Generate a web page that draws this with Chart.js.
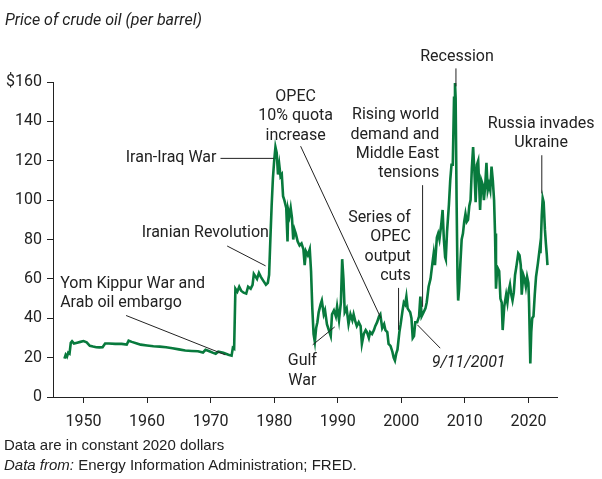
<!DOCTYPE html>
<html>
<head>
<meta charset="utf-8">
<script src="https://cdn.jsdelivr.net/npm/chart.js@4.4.1/dist/chart.umd.min.js"></script>
<style>
  html, body { margin: 0; padding: 0; background: #fff; }
  body { width: 602px; height: 479px; position: relative; overflow: hidden; font-family: Roboto, "Noto Sans", sans-serif; color: #222; }
  #wrap { position: absolute; left: 0; top: 0; width: 602px; height: 479px; }
  .txt { position: absolute; white-space: nowrap; color: #222; line-height: 17px; }
  #title { left: 5px; top: 11px; font-size: 16px; font-style: italic; line-height: 18px; }
  #note1 { left: 4px; top: 436px; font-size: 15px; font-family: "Liberation Sans", Arial, sans-serif; }
  #note2 { left: 4px; top: 456px; font-size: 15px; font-family: "Liberation Sans", Arial, sans-serif; }
</style>
</head>
<body>
<div id="wrap"><canvas id="c" width="602" height="479"></canvas></div>
<div class="txt" id="title">Price of crude oil (per barrel)</div>
<div class="txt" id="note1">Data are in constant 2020 dollars</div>
<div class="txt" id="note2"><i>Data from:</i> Energy Information Administration; FRED.</div>
<script>
// ---- Data ----
const years = [
 1947.0,1947.2,1947.4,1947.6,1947.8,1948.0,1948.2,1948.5,1949.0,1949.5,
 1950.0,1950.5,1951.0,1951.5,1952.0,1952.5,1953.0,1953.4,1954.0,1955.0,
 1956.0,1956.8,1957.1,1957.6,1958.4,1959.0,1960.0,1961.0,1962.0,1963.0,
 1964.0,1965.0,1966.0,1967.0,1968.0,1968.8,1969.2,1969.8,1970.4,1970.8,
 1971.2,1972.0,1972.8,1973.3,1973.5,1973.7,1973.9,1974.2,1974.5,1974.8,
 1975.2,1975.6,1975.9,1976.3,1976.6,1976.8,1977.1,1977.3,1977.6,1977.9,
 1978.3,1978.7,1979.0,1979.2,1979.4,1979.6,1979.8,1980.0,1980.2,1980.4,
 1980.6,1980.8,1981.0,1981.2,1981.4,1981.6,1981.9,1982.1,1982.2,1982.4,
 1982.6,1982.8,1983.0,1983.2,1983.4,1983.7,1984.0,1984.3,1984.6,1984.8,
 1985.0,1985.3,1985.6,1985.8,1986.0,1986.2,1986.4,1986.6,1986.8,1987.0,
 1987.3,1987.5,1987.8,1988.0,1988.3,1988.6,1988.9,1989.1,1989.4,1989.7,
 1989.9,1990.2,1990.5,1990.7,1990.9,1991.1,1991.4,1991.7,1992.0,1992.3,
 1992.5,1992.8,1993.0,1993.3,1993.6,1993.8,1994.1,1994.4,1994.6,1994.9,
 1995.1,1995.4,1995.7,1995.9,1996.2,1996.5,1996.7,1997.0,1997.3,1997.5,
 1997.8,1998.0,1998.3,1998.6,1998.8,1999.0,1999.2,1999.4,1999.7,1999.9,
 2000.2,2000.4,2000.6,2000.8,2001.0,2001.2,2001.4,2001.6,2001.8,2002.0,
 2002.2,2002.5,2002.8,2003.0,2003.2,2003.5,2003.8,2004.0,2004.3,2004.6,
 2004.9,2005.1,2005.3,2005.6,2005.8,2006.0,2006.3,2006.5,2006.7,2006.9,
 2007.0,2007.2,2007.5,2007.7,2007.9,2008.1,2008.3,2008.45,2008.55,2008.7,
 2008.85,2008.95,2009.1,2009.3,2009.5,2009.7,2009.9,2010.1,2010.3,2010.5,
 2010.7,2010.9,2011.1,2011.3,2011.5,2011.7,2011.9,2012.1,2012.4,2012.6,
 2012.8,2013.0,2013.2,2013.4,2013.6,2013.8,2014.0,2014.2,2014.4,2014.6,
 2014.75,2014.9,2015.1,2015.4,2015.6,2015.8,2015.95,2016.2,2016.5,2016.7,
 2016.9,2017.1,2017.3,2017.5,2017.7,2017.9,2018.1,2018.4,2018.6,2018.8,
 2018.95,2019.2,2019.4,2019.6,2019.8,2020.0,2020.1,2020.3,2020.45,2020.6,
 2020.8,2021.0,2021.2,2021.5,2021.8,2021.9,2022.1,2022.25,2022.4,2022.6,
 2022.75,2022.9,2023.0
];
const prices = [
 19.5,21.5,20.5,22.5,22,27.5,28.3,27.2,27.6,28,
 28.4,27.8,26,25.6,25.3,25.2,25.3,27.2,27.2,27,
 27,26.6,28.6,28,27.2,26.6,26.2,25.8,25.6,25.3,
 24.8,24.2,23.6,23.4,23.2,22.6,24,23.2,22.4,22,
 23,22.5,21.5,21,25,24.5,55,53.5,56,54,
 53,52.5,56,55,57,62.5,61,60,63,61,
 59,57,58,62,80,97,111,120,127,124,
 113,118,112,113,102,100,96,79,95,92,
 96,91,80,85,83,79,77,78,75,67,
 74,72,75,64,45,32,28,35,38,43,
 47,49,42,44,37,34,31,42,44,41,
 46,39,48,70,60,43,45,37,42,39,
 42,38,36,38,36,27,32,34,33,30,
 33,32,34,36,38,41,42,35,37,34,
 33,27,26,23,20,18.5,22,24,33,37,
 44,48,47,51,45,44,43,40,30,31,
 38,38,41,51,41,43,45,48,56,60,
 68,73,67,81,83,80,88,95,80,71,
 70,84,98,110,118,118,152,159.5,152,100,
 60,49,55,68,80,83,89,93,89,90,
 97,100,116,127,115,99,118,120,95,110,
 108,100,107,119,105,108,105,117,110,100,
 83,55,66,64,50,48,34,46,52,48,
 54,57,52,49,53,62,66,73,72,67,
 52,62,60,56,61,58,48,17,33,40,
 41,52,61,68,76,73,92,101,99,85,
 78,72,67
];
const xTickValues = [1950, 1960, 1970, 1980, 1990, 2000, 2010, 2020];
const xTickLabels = ['1950', '1960', '1970', '1980', '1990', '2000', '2010', '2020'];
const yTickValues = [0, 20, 40, 60, 80, 100, 120, 140, 160];
const yTickLabels = ['0', '20', '40', '60', '80', '100', '120', '140', '$160'];

// Annotations: anchor in data coordinates (year, value of first line centre)
const annotations = [
  { x: 1946.33, y: 57.4, align: 'left',   lines: ['Yom Kippur War and', 'Arab oil embargo'], leader: [[1956.7, 41.4], [1972.3, 21.4]] },
  { x: 1979.17, y: 83.1, align: 'right',  lines: ['Iranian Revolution'], leader: [[1972.6, 76.7], [1978.65, 66.6]] },
  { x: 1970.92, y: 121.5, align: 'right', lines: ['Iran-Iraq War'], leader: [[1971.55, 121.2], [1979.95, 121.2]] },
  { x: 1983.38, y: 152.4, align: 'center', lines: ['OPEC', '10% quota', 'increase'], leader: [[1984.16, 127.4], [1996.77, 40.2]] },
  { x: 1984.43, y: 18.1, align: 'center', lines: ['Gulf', 'War'], leader: [[1986.06, 26.5], [1989.53, 35.6]] },
  { x: 2001.5, y: 90.9, align: 'right',   lines: ['Series of', 'OPEC', 'output', 'cuts'], leader: [[1999.57, 55.4], [1999.57, 34.1]] },
  { x: 2005.97, y: 143.1, align: 'right', lines: ['Rising world', 'demand and', 'Middle East', 'tensions'], leader: [[2003.35, 107.6], [2003.35, 45.8]] },
  { x: 2010.6, y: 17.4, align: 'center',  lines: ['9/11/2001'], italic: true, leader: [[2002.52, 36.7], [2006.13, 24.8]] },
  { x: 2008.76, y: 172.5, align: 'center', lines: ['Recession'], leader: [[2008.6, 166.9], [2008.6, 157.8]] },
  { x: 2022.0, y: 138.9, align: 'center', lines: ['Russia invades', 'Ukraine'], leader: [[2022.11, 122.8], [2022.11, 103.4]] }
];

const INK = '#222222';
const GREEN = '#087a3d';
const FONT = 'Roboto';

const annotationPlugin = {
  id: 'annots',
  afterDatasetsDraw(chart) {
    const ctx = chart.ctx;
    const xs = chart.scales.x, ys = chart.scales.y;
    ctx.save();
    annotations.forEach(a => {
      ctx.beginPath();
      ctx.strokeStyle = INK;
      ctx.lineWidth = 1;
      ctx.moveTo(xs.getPixelForValue(a.leader[0][0]), ys.getPixelForValue(a.leader[0][1]));
      ctx.lineTo(xs.getPixelForValue(a.leader[1][0]), ys.getPixelForValue(a.leader[1][1]));
      ctx.stroke();
      ctx.fillStyle = INK;
      ctx.font = (a.italic ? 'italic ' : '') + '16px ' + FONT;
      ctx.textAlign = a.align;
      ctx.textBaseline = 'middle';
      const px = xs.getPixelForValue(a.x);
      const py = ys.getPixelForValue(a.y);
      a.lines.forEach((t, i) => ctx.fillText(t, px, py + i * 19.3));
    });
    ctx.restore();
  }
};

new Chart(document.getElementById('c'), {
  type: 'line',
  data: {
    datasets: [{
      data: years.map((yr, i) => ({ x: yr, y: prices[i] })),
      borderColor: GREEN,
      borderWidth: 2.6,
      pointRadius: 0,
      tension: 0,
      fill: false
    }]
  },
  options: {
    responsive: false,
    animation: false,
    devicePixelRatio: 1,
    layout: { padding: { left: 0, right: 45, top: 82, bottom: 0 } },
    plugins: { legend: { display: false }, tooltip: { enabled: false } },
    scales: {
      x: {
        type: 'linear',
        min: 1945.2,
        max: 2024.5,
        afterBuildTicks: s => { s.ticks = xTickValues.map(v => ({ value: v })); },
        afterFit: s => { s.height = 82; },
        grid: { display: true, drawOnChartArea: false, drawTicks: true, tickLength: 6, color: INK },
        border: { display: true, color: INK, width: 1 },
        ticks: {
          color: INK, font: { family: FONT, size: 16 }, padding: 9, maxRotation: 0,
          callback: (v) => { const i = xTickValues.indexOf(v); return i >= 0 ? xTickLabels[i] : ''; }
        }
      },
      y: {
        type: 'linear',
        min: 0,
        max: 160,
        afterBuildTicks: s => { s.ticks = yTickValues.map(v => ({ value: v })); },
        afterFit: s => { s.width = 53; },
        grid: { display: true, drawOnChartArea: false, drawTicks: true, tickLength: 6, color: INK },
        border: { display: true, color: INK, width: 1 },
        ticks: {
          color: INK, font: { family: FONT, size: 16 }, padding: 5,
          callback: (v) => { const i = yTickValues.indexOf(v); return i >= 0 ? yTickLabels[i] : ''; }
        }
      }
    }
  },
  plugins: [annotationPlugin]
});
</script>
</body>
</html>
